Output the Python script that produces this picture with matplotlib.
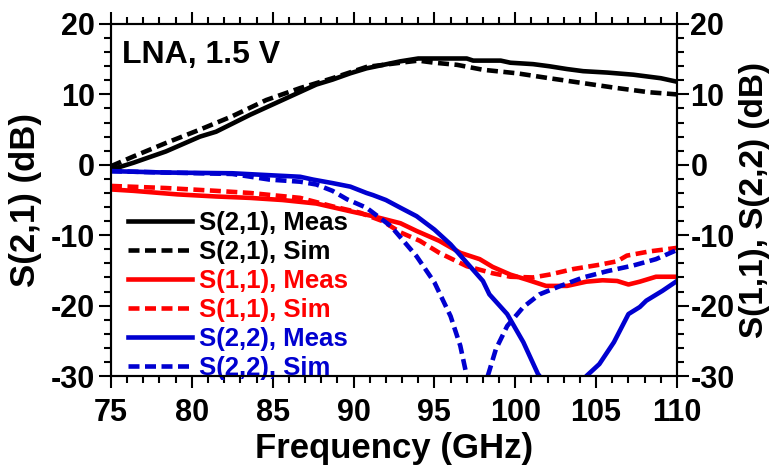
import matplotlib
matplotlib.use("Agg")
import matplotlib.pyplot as plt
from matplotlib.ticker import MultipleLocator

plt.rcParams['font.family'] = ['Liberation Sans', 'DejaVu Sans']
plt.rcParams['font.weight'] = 'bold'
plt.rcParams['axes.labelweight'] = 'bold'
plt.rcParams['axes.unicode_minus'] = False

# S-parameters of the LNA at 1.5 V supply (dB vs GHz)
s21_meas_f = [75, 76.4, 78.4, 80.5, 81.5, 83.6, 85.6, 87.7, 88.7, 89.8, 90.8, 92.9, 94.0,
              97.0, 97.4, 99.1, 99.7, 101.1, 102.1, 103.2, 104.2, 105.7, 107.3, 109.0, 110]
s21_meas = [-0.7, 0.3, 1.9, 4.0, 4.7, 7.1, 9.2, 11.4, 12.1, 13.0, 13.7, 14.7, 15.1,
            15.1, 14.8, 14.8, 14.5, 14.3, 14.0, 13.6, 13.3, 13.1, 12.8, 12.3, 11.8]

s21_sim_f = [75, 76.4, 78.4, 80.5, 82.5, 84.6, 86.7, 88.7, 90.8, 92.9, 94.0, 95.0, 96.4,
             98.0, 100.1, 102.1, 104.2, 106.3, 108.3, 110]
s21_sim = [-0.2, 1.2, 3.1, 5.0, 6.9, 9.2, 10.9, 12.3, 13.9, 14.5, 14.8, 14.5, 14.2,
           13.5, 13.0, 12.3, 11.6, 10.9, 10.3, 10.0]

s11_meas_f = [75, 76.4, 79.1, 81.5, 83.6, 85.6, 87.7, 89.8, 91.2, 92.9, 93.9, 95.3, 96.6,
              97.8, 98.6, 99.7, 100.7, 101.9, 103.2, 104.4, 105.4, 106.3, 107.0, 107.7, 108.7, 110]
s11_meas = [-3.5, -3.7, -4.2, -4.5, -4.7, -5.0, -5.5, -6.6, -7.3, -8.3, -9.4, -10.8, -12.5,
            -13.4, -14.5, -15.6, -16.3, -17.2, -17.2, -16.6, -16.4, -16.5, -17.0, -16.6, -15.9, -15.9]

s11_sim_f = [75, 78.4, 81.5, 83.6, 86.7, 88.7, 90.4, 91.8, 92.9, 94.1, 95.3, 97.0, 98.6,
             99.7, 101.1, 102.1, 103.6, 105.2, 106.3, 106.9, 108.3, 110]
s11_sim = [-3.0, -3.3, -3.7, -4.0, -4.7, -5.9, -6.8, -8.0, -9.6, -10.8, -12.5, -14.4, -15.4,
           -15.9, -16.0, -15.6, -14.8, -14.2, -13.7, -12.9, -12.3, -11.8]

s22_meas_f = [75, 78.4, 82.5, 85.0, 86.7, 87.5, 88.7, 89.8, 90.8, 91.2, 92.0, 92.9, 93.9,
              95.0, 96.0, 97.0, 98.0, 98.4, 99.5, 100.5, 101.4, 102.5, 103.5, 104.4, 105.2,
              106.1, 107.0, 107.7, 108.1, 109.1, 110]
s22_meas = [-0.9, -1.1, -1.2, -1.5, -1.7, -2.1, -2.6, -3.1, -4.0, -4.3, -5.0, -6.1, -7.3,
            -9.2, -11.3, -13.9, -16.5, -18.4, -21.2, -25.2, -29.7, -33.0, -33.5, -30.0, -28.3,
            -25.2, -21.2, -20.2, -19.3, -17.9, -16.5]

s22_sim_f = [75, 78.4, 82.5, 84.8, 86.7, 87.7, 88.7, 89.6, 90.8, 92.3, 92.9, 93.9, 95.0,
             96.0, 96.6, 97.0, 97.6, 98.3, 98.8, 99.5, 100.5, 101.5, 102.8, 104.2, 105.7,
             107.3, 108.7, 110]
s22_sim = [-0.9, -1.1, -1.3, -2.1, -2.4, -2.8, -3.7, -4.9, -6.1, -8.7, -10.3, -13.0, -16.7,
           -21.5, -25.7, -30.0, -38.0, -30.0, -26.2, -22.9, -20.2, -18.4, -17.2, -16.0, -15.1,
           -14.3, -13.4, -12.1]

RED = '#ff0000'
BLUE = '#0000d0'
lw = 3.3
dash = (2.4, 1.2)

fig = plt.figure(figsize=(7.76, 4.66), dpi=100)
ax = fig.add_axes([0.143, 0.1931, 0.7294, 0.7554])

ax.plot(s21_meas_f, s21_meas, color='black', lw=lw, label='S(2,1), Meas')
ax.plot(s21_sim_f, s21_sim, color='black', lw=lw, dashes=dash, label='S(2,1), Sim')
ax.plot(s11_meas_f, s11_meas, color=RED, lw=lw, label='S(1,1), Meas')
ax.plot(s11_sim_f, s11_sim, color=RED, lw=lw, dashes=dash, label='S(1,1), Sim')
ax.plot(s22_meas_f, s22_meas, color=BLUE, lw=lw, label='S(2,2), Meas')
ax.plot(s22_sim_f, s22_sim, color=BLUE, lw=lw, dashes=dash, label='S(2,2), Sim')

ax.set_xlim(75, 110)
ax.set_ylim(-30, 20)
ax.xaxis.set_major_locator(MultipleLocator(5))
ax.xaxis.set_minor_locator(MultipleLocator(1))
ax.yaxis.set_major_locator(MultipleLocator(10))
ax.yaxis.set_minor_locator(MultipleLocator(2))

for s in ax.spines.values():
    s.set_linewidth(1.5)
ax.tick_params(which='both', direction='out', top=True, width=1.5)
ax.tick_params(which='major', length=8.6)
ax.tick_params(which='minor', length=5.2)
ax.tick_params(axis='y', labelsize=22, pad=3)
ax.tick_params(axis='x', labelsize=22, pad=7)

ax.set_xlabel('Frequency (GHz)', fontsize=25, labelpad=3)
ax.set_ylabel('S(2,1) (dB)', fontsize=25, labelpad=6)

ax2 = ax.twinx()
ax2.set_ylim(-30, 20)
ax2.yaxis.set_major_locator(MultipleLocator(10))
ax2.yaxis.set_minor_locator(MultipleLocator(2))
ax2.tick_params(which='both', direction='out', width=1.5, labelsize=22, pad=1)
ax2.tick_params(which='major', length=8.6)
ax2.tick_params(which='minor', length=5.2)
for s in ax2.spines.values():
    s.set_linewidth(1.5)
ax2.set_ylabel('S(1,1), S(2,2) (dB)', fontsize=24, labelpad=3)

ax.text(0.019, 0.889, 'LNA, 1.5 V', transform=ax.transAxes, fontsize=23,
        ha='left', va='baseline')

ax.legend(loc='lower left', bbox_to_anchor=(0.03, -0.012), frameon=False, fontsize=18.5,
          handlelength=2.5, handletextpad=0.25, labelspacing=0.2, borderpad=0,
          borderaxespad=0, labelcolor='linecolor')

fig.savefig('out.png', dpi=100)
